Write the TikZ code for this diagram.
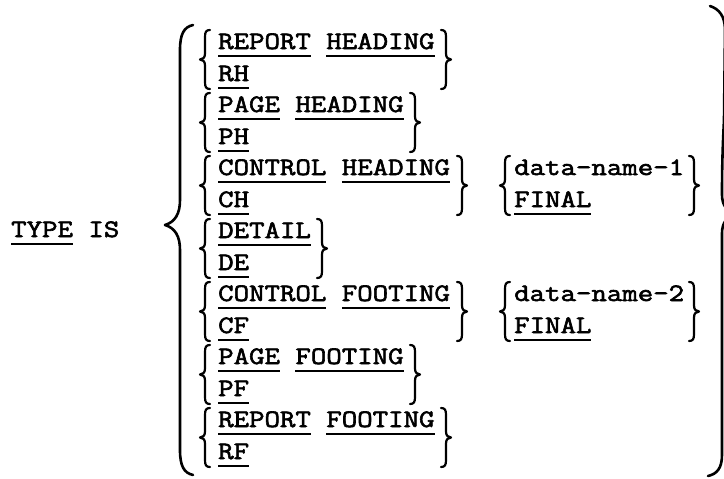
\documentclass[tikz,border=0pt]{standalone}
\usepackage{fontspec}
\newfontfamily\tyf[FakeStretch=1.2,FakeBold=2.4]{Latin Modern Mono}
\newcommand\ul[1]{\setbox0\hbox{#1}\rlap{\rule[-8pt]{\wd0}{2pt}}\box0\relax}
\newcommand\LB[3]{%
 \pgfmathsetmacro\ym{(#2+#3)/2}%
 \draw[sbr] ({#1+10},#2) .. controls ({#1+6},#2) and ({#1+5},{#2+2}) .. ({#1+5},{#2+7}) -- ({#1+5},{\ym-6}) .. controls ({#1+5},{\ym-2}) and ({#1+3},\ym) .. (#1,\ym) .. controls ({#1+3},\ym) and ({#1+5},{\ym+2}) .. ({#1+5},{\ym+6}) -- ({#1+5},{#3-7}) .. controls ({#1+5},{#3-2}) and ({#1+6},#3) .. ({#1+10},#3);}
\newcommand\RB[3]{%
 \pgfmathsetmacro\ym{(#2+#3)/2}%
 \draw[sbr] (#1,#2) .. controls ({#1+4},#2) and ({#1+5},{#2+2}) .. ({#1+5},{#2+7}) -- ({#1+5},{\ym-6}) .. controls ({#1+5},{\ym-2}) and ({#1+7},\ym) .. ({#1+10},\ym) .. controls ({#1+7},\ym) and ({#1+5},{\ym+2}) .. ({#1+5},{\ym+6}) -- ({#1+5},{#3-7}) .. controls ({#1+5},{#3-2}) and ({#1+4},#3) .. (#1,#3);}
\begin{document}
\begin{tikzpicture}[x=1pt,y=-1pt,
  tx/.style={anchor=base west, inner sep=0pt, font=\tyf\fontsize{25}{30}\selectfont},
  sbr/.style={line width=2.2pt, line cap=round, line join=round},
  bbr/.style={line width=2.6pt, line cap=round, line join=round}]
\fill[white] (0,0) rectangle (724,479);
\useasboundingbox (0,0) rectangle (724,479);
% main keyword
\node[tx] (type) at (11,237) {\ul{TYPE} IS};
% big left brace
\draw[bbr] (193,25) .. controls (184,27) and (180,34) .. (180,50) -- (180,200) .. controls (180,214) and (175,222) .. (165,225) .. controls (175,228) and (180,236) .. (180,250) -- (180,450) .. controls (180,466) and (184,473) .. (193,475);
% big right brace (tip beyond the edge)
\draw[bbr] (710,6) .. controls (719,9) and (725,16) .. (725,30) -- (724,120) .. controls (723,140) and (722,160) .. (722,195) .. controls (722,205) and (727,212) .. (736,214) .. controls (727,216) and (722,223) .. (722,233) -- (722,455) .. controls (722,468) and (717,474) .. (708,476);
% options
\node[tx] (rh1) at (218,49) {\ul{REPORT} \ul{HEADING}};
\node[tx] (rh2) at (218,81) {\ul{RH}};
\node[tx] (ph1) at (218,112) {\ul{PAGE} \ul{HEADING}};
\node[tx] (ph2) at (218,144) {\ul{PH}};
\node[tx] (ch1) at (218,175) {\ul{CONTROL} \ul{HEADING}};
\node[tx] (ch2) at (218,207) {\ul{CH}};
\node[tx] (de1) at (218,238) {\ul{DETAIL}};
\node[tx] (de2) at (218,270) {\ul{DE}};
\node[tx] (cf1) at (218,301) {\ul{CONTROL} \ul{FOOTING}};
\node[tx] (cf2) at (218,333) {\ul{CF}};
\node[tx] (pf1) at (218,364) {\ul{PAGE} \ul{FOOTING}};
\node[tx] (pf2) at (218,396) {\ul{PF}};
\node[tx] (rf1) at (218,427) {\ul{REPORT} \ul{FOOTING}};
\node[tx] (rf2) at (218,459) {\ul{RF}};
\node[tx] (dn1) at (514,175) {data-name-1};
\node[tx] (fi1) at (514,207) {\ul{FINAL}};
\node[tx] (dn2) at (514,301) {data-name-2};
\node[tx] (fi2) at (514,333) {\ul{FINAL}};
% small braces
\foreach \k in {0,...,6}{
  \pgfmathsetmacro\ya{49+63*\k-19}
  \pgfmathsetmacro\yb{81+63*\k+8}
  \LB{200}{\ya}{\yb}
}
\RB{441}{30}{89}
\RB{410}{93}{152}
\RB{457}{156}{215}
\RB{317}{219}{278}
\RB{457}{282}{341}
\RB{410}{345}{404}
\RB{441}{408}{467}
\LB{500}{156}{215}
\RB{689}{156}{215}
\LB{500}{282}{341}
\RB{689}{282}{341}
\end{tikzpicture}
\end{document}
